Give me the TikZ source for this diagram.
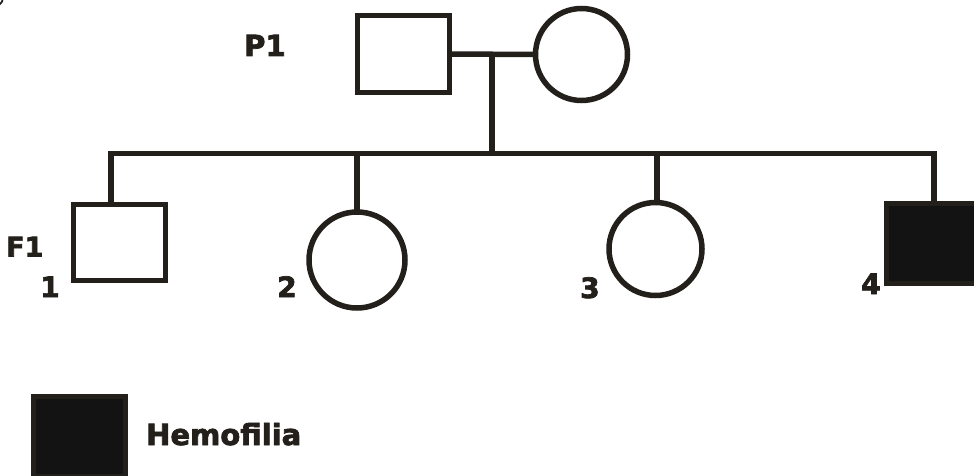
\documentclass[tikz,border=0pt]{standalone}
\usepackage{fontspec}
\setmainfont{DejaVu Sans}
\newfontfamily\heavy{DejaVu Sans}[BoldFeatures={FakeBold=2.5}]
\definecolor{ink}{HTML}{231F1B}
\definecolor{affill}{HTML}{131313}
\tikzset{
  lw/.style={line width=5.5pt, draw=ink, line join=miter},
  male/.style={lw, rectangle, inner sep=0pt, outer sep=0pt, fill=white},
  female/.style={lw, circle, inner sep=0pt, outer sep=0pt, fill=white},
  affected/.style={fill=affill},
  lab/.style={text=ink, inner sep=0pt, anchor=base west},
}
\begin{document}
\begin{tikzpicture}[x=1pt,y=-1pt]
\useasboundingbox (0,0) rectangle (974,476);
% partial mark at corner
\draw[ink, line width=1.8pt] (2.5,-3) .. controls (2.5,1.5) .. (-0.5,4.5);
% P1
\node[male, minimum width=92pt, minimum height=77pt] (father) at (403.5,54) {};
\node[female, minimum size=92pt] (mother) at (581.5,54.5) {};
\coordinate (mid) at (492,55);
\coordinate (sib) at (492,153.5);
\draw[lw] (father.east) -- (mother.west);
\draw[lw] (mid) -- (sib);
% F1
\node[male, minimum width=92pt, minimum height=76pt] (c1) at (119.5,242.5) {};
\node[female, minimum size=96pt] (c2) at (357,260) {};
\node[female, minimum size=93pt] (c3) at (655.5,249) {};
\node[male, affected, minimum width=92pt, minimum height=80pt] (c4) at (932.5,243.5) {};
\draw[lw] ([xshift=-8.5pt]c1.north) |- (sib) -| ([xshift=1.5pt]c4.north);
\draw[lw] (c2.north) -- (c2.north |- sib);
\draw[lw] ([xshift=1.5pt]c3.north) -- ([xshift=1.5pt]c3.north |- sib);
% labels
\node[lab, font=\heavy\bfseries\fontsize{29}{29}\selectfont] (p1) at (244,56) {P1};
\node[lab, font=\heavy\bfseries\fontsize{27}{27}\selectfont] (f1) at (6,256.5) {F1};
\node[lab, font=\heavy\bfseries\fontsize{28}{28}\selectfont] (n1) at (40,297) {1};
\node[lab, font=\heavy\bfseries\fontsize{28}{28}\selectfont] (n2) at (277,297) {2};
\node[lab, font=\heavy\bfseries\fontsize{28}{28}\selectfont] (n3) at (580,298) {3};
\node[lab, font=\heavy\bfseries\fontsize{28}{28}\selectfont] (n4) at (861,294) {4};
% legend
\node[male, affected, minimum width=92pt, minimum height=80pt] (leg) at (79.5,436.5) {};
\node[lab, font=\heavy\bfseries\fontsize{29}{29}\selectfont] (legtxt) at (146,445) {Hemofilia};
\end{tikzpicture}
\end{document}
